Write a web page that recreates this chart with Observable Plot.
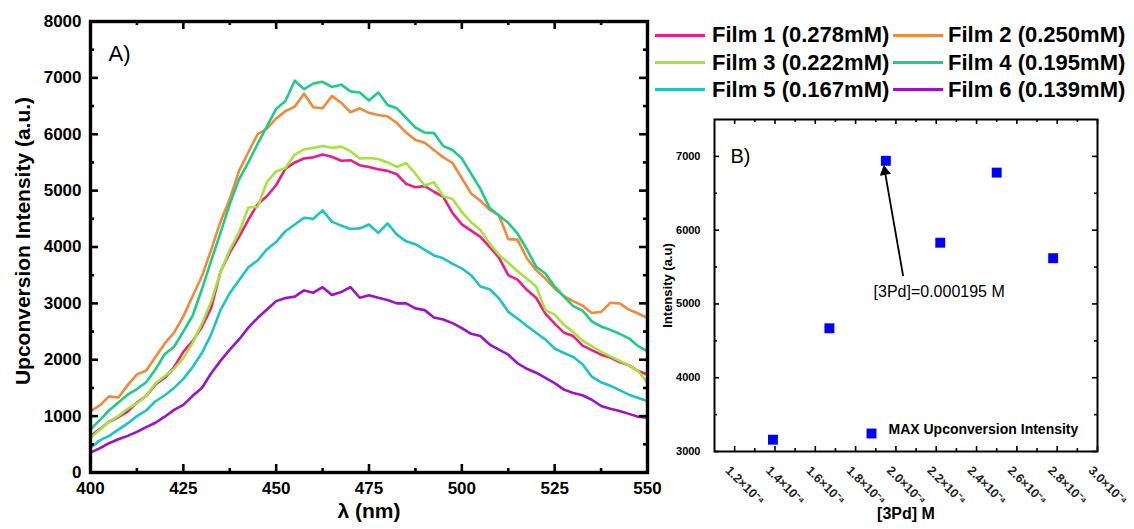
<!DOCTYPE html>
<html>
<head>
<meta charset="utf-8">
<script src="https://cdn.jsdelivr.net/npm/d3@7"></script>
<script src="https://cdn.jsdelivr.net/npm/@observablehq/plot@0.6"></script>
<style>
  body { margin: 0; background: #fff; }
  #root { position: relative; width: 1134px; height: 529px; overflow: hidden; background: #fff;
          font-family: "Liberation Sans", Arial, Helvetica, sans-serif; }
  #A { position: absolute; left: 0; top: 0; }
  #B { position: absolute; left: 660px; top: 0; }
  .lg-text { position: absolute; font-weight: bold; font-size: 22px; line-height: 22px; white-space: nowrap; color: #000; }
  .lg-sw { position: absolute; width: 50px; height: 3px; }
</style>
</head>
<body>
<div id="root">
  <div id="A"></div>
  <div id="B"></div>
  <div id="legend"></div>
</div>
<script>
// ---------------- DATA ----------------
const wavelength = d3.range(400, 550.01, 2.5); // 61 sample wavelengths (nm)

const filmNames = ["Film 1 (0.278mM)", "Film 2 (0.250mM)", "Film 3 (0.222mM)",
                   "Film 4 (0.195mM)", "Film 5 (0.167mM)", "Film 6 (0.139mM)"];
const filmColors = ["#ee1c84", "#f2893a", "#a4e43a", "#1ccd88", "#1cc4c8", "#9c12c6"];

const film1 = [647, 770, 900, 980, 1080, 1240, 1360, 1560, 1680, 1870,
  2140, 2330, 2580, 2920, 3560, 3900, 4180, 4480, 4760, 4900,
  5100, 5390, 5500, 5570, 5590, 5640, 5600, 5530, 5540, 5450,
  5420, 5380, 5350, 5290, 5120, 5060, 5080, 4980, 4890, 4600,
  4400, 4290, 4180, 4000, 3810, 3500, 3420, 3240, 3100, 2820,
  2640, 2480, 2420, 2250, 2170, 2090, 2040, 1960, 1900, 1800,
  1740];
const film2 = [1090, 1190, 1350, 1330, 1550, 1740, 1810, 2050, 2290, 2480,
  2770, 3130, 3480, 3950, 4450, 4850, 5350, 5680, 6000, 6100,
  6280, 6410, 6490, 6720, 6480, 6460, 6680, 6560, 6390, 6460,
  6380, 6340, 6320, 6200, 6030, 5900, 5850, 5720, 5590, 5490,
  5220, 4950, 4820, 4660, 4560, 4140, 4130, 3800, 3590, 3440,
  3260, 3130, 3040, 2960, 2830, 2850, 3010, 3000, 2890, 2820,
  2740];
const film3 = [617, 760, 900, 1000, 1130, 1230, 1360, 1580, 1710, 1840,
  2030, 2300, 2640, 3030, 3550, 3950, 4260, 4700, 4710, 5150,
  5340, 5400, 5640, 5730, 5760, 5790, 5760, 5780, 5700, 5570,
  5580, 5560, 5500, 5420, 5490, 5300, 5090, 5150, 4900, 4850,
  4620, 4440, 4300, 4060, 3860, 3720, 3570, 3440, 3300, 2880,
  2800, 2620, 2490, 2340, 2240, 2140, 2060, 1980, 1900, 1800,
  1590];
const film4 = [764, 930, 1100, 1240, 1380, 1480, 1600, 1830, 2100, 2230,
  2500, 2780, 3250, 3760, 4250, 4760, 5200, 5500, 5830, 6140,
  6450, 6590, 6950, 6800, 6900, 6930, 6840, 6880, 6760, 6740,
  6600, 6740, 6520, 6460, 6290, 6120, 6030, 6020, 5790, 5720,
  5570, 5300, 5030, 4690, 4560, 4430, 4236, 3960, 3650, 3530,
  3300, 3120, 2950, 2870, 2680, 2590, 2530, 2460, 2380, 2240,
  2150];
const film5 = [441, 570, 650, 760, 870, 1000, 1100, 1264, 1370, 1500,
  1660, 1870, 2120, 2450, 2880, 3180, 3410, 3640, 3760, 3960,
  4090, 4280, 4400, 4520, 4500, 4650, 4450, 4380, 4320, 4330,
  4400, 4250, 4420, 4220, 4100, 4050, 3950, 3850, 3800, 3700,
  3620, 3500, 3300, 3250, 3090, 2850, 2730, 2600, 2480, 2360,
  2200, 2120, 2050, 1920, 1700, 1600, 1540, 1460, 1380, 1320,
  1267];
const film6 = [353, 430, 520, 590, 650, 720, 805, 882, 990, 1110,
  1200, 1360, 1500, 1760, 1980, 2180, 2360, 2570, 2740, 2890,
  3040, 3094, 3120, 3230, 3190, 3288, 3150, 3200, 3290, 3100,
  3146, 3100, 3060, 3000, 3000, 2911, 2880, 2750, 2715, 2650,
  2560, 2460, 2420, 2270, 2180, 2090, 1938, 1840, 1770, 1680,
  1585, 1470, 1410, 1370, 1290, 1180, 1130, 1090, 1040, 990,
  972];

// Panel A ticks
const xTicksA = [400, 425, 450, 475, 500, 525, 550];
const xMinorA = [412.5, 437.5, 462.5, 487.5, 512.5, 537.5];
const yTicksA = [0, 1000, 2000, 3000, 4000, 5000, 6000, 7000, 8000];
const yMinorA = [500, 1500, 2500, 3500, 4500, 5500, 6500, 7500];

// Panel B data
const concentration = [1.39e-4, 1.67e-4, 1.95e-4, 2.22e-4, 2.50e-4, 2.78e-4];
const maxIntensity = [3160, 4670, 6940, 5830, 6780, 5620];
const xTicksB = [1.2e-4, 1.4e-4, 1.6e-4, 1.8e-4, 2.0e-4, 2.2e-4, 2.4e-4, 2.6e-4, 2.8e-4, 3.0e-4];
const xTickLabelsB = ["1.2×10⁻⁴", "1.4×10⁻⁴", "1.6×10⁻⁴", "1.8×10⁻⁴", "2.0×10⁻⁴",
                      "2.2×10⁻⁴", "2.4×10⁻⁴", "2.6×10⁻⁴", "2.8×10⁻⁴", "3.0×10⁻⁴"];
const xMinorB = [1.3e-4, 1.5e-4, 1.7e-4, 1.9e-4, 2.1e-4, 2.3e-4, 2.5e-4, 2.7e-4, 2.9e-4];
const yTicksB = [3000, 4000, 5000, 6000, 7000];
const yMinorB = [3500, 4500, 5500, 6500];
// annotation arrow (data coordinates): tail -> head, and label anchor
const arrowTail = {x: 2.036e-4, y: 5376};
const arrowHead = {x: 1.94e-4, y: 6876};
const annotText = [{x: 1.889e-4, y: 5159, label: "[3Pd]=0.000195 M"}];

// ---------------- BUILD ----------------
const FONT = '"Liberation Sans", Arial, Helvetica, sans-serif';
const spectra = [film1, film2, film3, film4, film5, film6].flatMap((vals, i) =>
  vals.map((v, j) => ({wl: wavelength[j], v, film: filmNames[i]})));

// Panel A
const WA = 660, H = 529;
const mA = {l: 90, r: 13, t: 21, b: 57};
const iwA = WA - mA.l - mA.r, ihA = H - mA.t - mA.b;
const tickStyle = {stroke: "#000", strokeWidth: 2.6};

const plotA = Plot.plot({
  width: WA, height: H,
  marginLeft: mA.l, marginRight: mA.r, marginTop: mA.t, marginBottom: mA.b,
  style: {fontFamily: FONT, background: "transparent", overflow: "visible", color: "#000"},
  x: {domain: [400, 550]},
  y: {domain: [0, 8000]},
  color: {domain: filmNames, range: filmColors},
  marks: [
    Plot.line(spectra, {x: "wl", y: "v", z: "film", stroke: "film", strokeWidth: 2.6, strokeLinejoin: "round"}),
    // inward ticks: left / right
    Plot.tickY(yTicksA, {y: d => d, insetRight: iwA - 8, ...tickStyle}),
    Plot.tickY(yMinorA, {y: d => d, insetRight: iwA - 4, ...tickStyle}),
    Plot.tickY(yTicksA, {y: d => d, insetLeft: iwA - 8, ...tickStyle}),
    Plot.tickY(yMinorA, {y: d => d, insetLeft: iwA - 4, ...tickStyle}),
    // bottom / top
    Plot.tickX(xTicksA, {x: d => d, insetTop: ihA - 8, ...tickStyle}),
    Plot.tickX(xMinorA, {x: d => d, insetTop: ihA - 4, ...tickStyle}),
    Plot.tickX(xTicksA, {x: d => d, insetBottom: ihA - 8, ...tickStyle}),
    Plot.tickX(xMinorA, {x: d => d, insetBottom: ihA - 4, ...tickStyle}),
    Plot.frame({stroke: "#000", strokeWidth: 3.4}),
    Plot.axisX({ticks: xTicksA, tickSize: 0, tickPadding: 9, fontSize: 17, fontWeight: "bold",
                tickFormat: d => String(d), label: null}),
    Plot.axisY({ticks: yTicksA, tickSize: 0, tickPadding: 9, fontSize: 17, fontWeight: "bold",
                tickFormat: d => String(d), label: null}),
    Plot.text(["λ (nm)"], {text: d => d, frameAnchor: "bottom", textAnchor: "middle", dy: 45,
                fontSize: 21, fontWeight: "bold"}),
    Plot.text(["Upconversion Intensity (a.u.)"], {text: d => d, frameAnchor: "left", textAnchor: "middle",
                rotate: -90, dx: -67, dy: -6, fontSize: 21, fontWeight: "bold"}),
    Plot.text(["A)"], {text: d => d, frameAnchor: "top-left", textAnchor: "start", lineAnchor: "bottom",
                dx: 18, dy: 39, fontSize: 22})
  ]
});
document.getElementById("A").appendChild(plotA);

// Panel B
const WB = 474;
const mB = {l: 54, r: 37, t: 119, b: 78};
const iwB = WB - mB.l - mB.r, ihB = H - mB.t - mB.b;
const tickB = {stroke: "#000", strokeWidth: 1.6};
const points = concentration.map((c, i) => ({c, v: maxIntensity[i]}));
const xDomB = [1.1e-4, 3.0e-4], yDomB = [3000, 7500];

// arrowhead geometry through the same scales
const sx = Plot.scale({x: {domain: xDomB, range: [mB.l, WB - mB.r]}});
const sy = Plot.scale({y: {domain: yDomB, range: [H - mB.b, mB.t]}});
const px1 = sx.apply(arrowTail.x), py1 = sy.apply(arrowTail.y);
const px2 = sx.apply(arrowHead.x), py2 = sy.apply(arrowHead.y);
const len = Math.hypot(px2 - px1, py2 - py1);
const ux = (px2 - px1) / len, uy = (py2 - py1) / len;
const headAngle = Math.atan2(ux, -uy) * 180 / Math.PI;
const headCenter = {x: sx.invert(px2 - ux * 6), y: sy.invert(py2 - uy * 6)};
const shaftEnd = {x: sx.invert(px2 - ux * 8), y: sy.invert(py2 - uy * 8)};

const plotB = Plot.plot({
  width: WB, height: H,
  marginLeft: mB.l, marginRight: mB.r, marginTop: mB.t, marginBottom: mB.b,
  style: {fontFamily: FONT, background: "transparent", overflow: "visible", color: "#000"},
  x: {domain: xDomB, axis: null},
  y: {domain: yDomB},
  marks: [
    Plot.tickY(yTicksB, {y: d => d, insetRight: iwB - 5, ...tickB}),
    Plot.tickY(yMinorB, {y: d => d, insetRight: iwB - 3, ...tickB}),
    Plot.tickY(yTicksB, {y: d => d, insetLeft: iwB - 5, ...tickB}),
    Plot.tickY(yMinorB, {y: d => d, insetLeft: iwB - 3, ...tickB}),
    Plot.tickX(xTicksB, {x: d => d, insetTop: ihB - 5, ...tickB}),
    Plot.tickX(xMinorB, {x: d => d, insetTop: ihB - 3, ...tickB}),
    Plot.tickX(xTicksB, {x: d => d, insetBottom: ihB - 5, ...tickB}),
    Plot.tickX(xMinorB, {x: d => d, insetBottom: ihB - 3, ...tickB}),
    Plot.frame({stroke: "#000", strokeWidth: 2}),
    Plot.axisY({ticks: yTicksB, tickSize: 0, tickPadding: 14, fontSize: 11, fontWeight: "bold",
                tickFormat: d => String(d), label: null}),
    Plot.text(xTicksB, {x: d => d, y: 3000, text: (d, i) => xTickLabelsB[i], rotate: 45,
                textAnchor: "start", dx: -7, dy: 17, fontSize: 12.5, fontWeight: "bold", fill: "#222"}),
    Plot.dot(points, {x: "c", y: "v", symbol: "square", r: 5.6, fill: "#0000ff", stroke: "none"}),
    Plot.link([{}], {x1: arrowTail.x, y1: arrowTail.y, x2: shaftEnd.x, y2: shaftEnd.y,
                stroke: "#000", strokeWidth: 1.8}),
    Plot.dot([{}], {x: headCenter.x, y: headCenter.y, symbol: "triangle", r: 4.2,
                rotate: headAngle, fill: "#000", stroke: "none"}),
    Plot.text(annotText, {x: "x", y: "y", text: "label", textAnchor: "start", fontSize: 16}),
    Plot.text(["B)"], {text: d => d, frameAnchor: "top-left", textAnchor: "start", dx: 16, dy: 29, fontSize: 20}),
    Plot.dot([0], {frameAnchor: "bottom-left", dx: 157, dy: -18, symbol: "square", r: 5.6, fill: "#0000ff", stroke: "none"}),
    Plot.text(["MAX Upconversion Intensity"], {text: d => d, frameAnchor: "bottom-left", textAnchor: "start",
                dx: 174, dy: -18, fontSize: 14, fontWeight: "bold"}),
    Plot.text(["Intensity (a.u)"], {text: d => d, frameAnchor: "left", textAnchor: "middle", rotate: -90, dx: -47,
                fontSize: 13, fontWeight: "bold"}),
    Plot.text(["[3Pd] M"], {text: d => d, frameAnchor: "bottom", textAnchor: "middle", dy: 67,
                fontSize: 16, fontWeight: "bold"})
  ]
});
document.getElementById("B").appendChild(plotB);

// Legend for panel A (two columns, three rows)
const legend = document.getElementById("legend");
const rowY = [35, 62.5, 89.5];
const colSw = [655, 893], colTx = [712, 948];
filmNames.forEach((name, i) => {
  const r = Math.floor(i / 2), c = i % 2;
  const sw = document.createElement("div");
  sw.className = "lg-sw";
  sw.style.left = colSw[c] + "px";
  sw.style.top = (rowY[r] - 1.5) + "px";
  sw.style.background = filmColors[i];
  legend.appendChild(sw);
  const tx = document.createElement("div");
  tx.className = "lg-text";
  tx.style.left = colTx[c] + "px";
  tx.style.top = (rowY[r] - 11) + "px";
  tx.textContent = name;
  legend.appendChild(tx);
});
</script>
</body>
</html>
